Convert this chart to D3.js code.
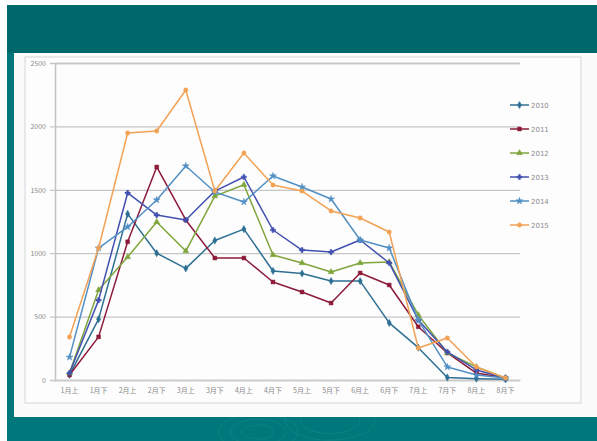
<!DOCTYPE html>
<html>
<head>
<meta charset="utf-8">
<script src="https://cdn.jsdelivr.net/npm/d3@7"></script>
<style>
  body { margin: 0; background: #ffffff; }
  svg { display: block; }
  .axis text { font-family: "Noto Sans CJK SC", "DejaVu Sans", sans-serif; font-size: 7px; fill: #8a8a8a; }
</style>
</head>
<body>
<script>
// data
const categories = ["1月上", "1月下", "2月上", "2月下", "3月上", "3月下", "4月上", "4月下",
                    "5月上", "5月下", "6月上", "6月下", "7月上", "7月下", "8月上", "8月下"];
const seriesNames = ["2010", "2011", "2012", "2013", "2014", "2015"];
const values2010 = [40, 480, 1310, 1000, 880, 1100, 1190, 860, 840, 780, 780, 450, 255, 20, 10, 5];
const values2011 = [40, 340, 1090, 1680, 1262, 962, 962, 773, 694, 607, 844, 749, 420, 213, 55, 16];
const values2012 = [55, 710, 970, 1246, 1017, 1450, 1540, 986, 923, 852, 923, 931, 513, 213, 103, 16];
const values2013 = [55, 630, 1475, 1301, 1262, 1490, 1601, 1183, 1025, 1009, 1104, 923, 473, 221, 79, 16];
const values2014 = [180, 1040, 1207, 1420, 1688, 1483, 1404, 1609, 1522, 1427, 1104, 1041, 473, 103, 39, 16];
const values2015 = [339, 1041, 1948, 1964, 2287, 1490, 1790, 1538, 1490, 1333, 1278, 1167, 252, 331, 103, 16];
const yTicks = [0, 500, 1000, 1500, 2000, 2500];

const allValues = [values2010, values2011, values2012, values2013, values2014, values2015];
const colors = ["#2d6f93", "#8c1b3a", "#7fa53c", "#4250b0", "#5290c4", "#f2a255"];
const symbols = [d3.symbolDiamond, d3.symbolSquare, d3.symbolTriangle, d3.symbolCross, d3.symbolStar, d3.symbolCircle];

const W = 597, H = 441;
const plot = {left: 55, right: 520, top: 63, bottom: 380};

const svg = d3.select("body").append("svg")
    .attr("width", W)
    .attr("height", H);

// slide background
svg.append("rect").attr("x", 0).attr("y", 0).attr("width", W).attr("height", H).attr("fill", "#ffffff");
svg.append("rect").attr("x", 7).attr("y", 5).attr("width", W - 7).attr("height", H - 5).attr("fill", "#00777a");
svg.append("rect").attr("x", 7).attr("y", 5).attr("width", W - 7).attr("height", 48).attr("fill", "#00676a");

// faint ripple decoration at bottom
[[258, 432, 40], [258, 432, 28], [258, 432, 16], [330, 420, 45], [330, 420, 30]].forEach(function (c) {
    svg.append("ellipse")
        .attr("cx", c[0]).attr("cy", c[1]).attr("rx", c[2]).attr("ry", c[2] * 0.45)
        .attr("fill", "none").attr("stroke", "#0f8183").attr("stroke-width", 1);
});

// white panel
svg.append("rect").attr("x", 14).attr("y", 53).attr("width", W - 14).attr("height", 364).attr("fill", "#fbfbfb");

// chart frame
svg.append("rect").attr("x", 25).attr("y", 57).attr("width", 556).attr("height", 346)
    .attr("fill", "#fdfdfd").attr("stroke", "#d6d6d6").attr("stroke-width", 1);

// scales
const x = d3.scaleBand().domain(categories).range([plot.left, plot.right]);
const cx = function (c) { return x(c) + x.bandwidth() / 2; };
const y = d3.scaleLinear().domain([0, 2500]).range([plot.bottom, plot.top]);

// y axis with gridlines
const yAxis = svg.append("g")
    .attr("class", "axis")
    .attr("transform", "translate(" + plot.left + ",0)")
    .call(d3.axisLeft(y).tickValues(yTicks).tickFormat(d3.format("d"))
        .tickSize(-(plot.right - plot.left)).tickPadding(9));
yAxis.select(".domain").attr("stroke", "#c4c4c4").attr("stroke-width", 1.5);
yAxis.selectAll(".tick line").attr("stroke", "#c6c6c6").attr("stroke-width", 1.3).attr("x1", -5);

// x axis
const xAxis = svg.append("g")
    .attr("class", "axis")
    .attr("transform", "translate(0," + plot.bottom + ")")
    .call(d3.axisBottom(x).tickSize(2).tickPadding(6));
xAxis.select(".domain").attr("stroke", "#cccccc").attr("stroke-dasharray", "2,1");
xAxis.selectAll(".tick line").attr("stroke", "#d4d4d4");

// lines
const line = d3.line()
    .x(function (d, i) { return cx(categories[i]); })
    .y(function (d) { return y(d); });

allValues.forEach(function (vals, s) {
    svg.append("path")
        .datum(vals)
        .attr("fill", "none")
        .attr("stroke", colors[s])
        .attr("stroke-width", 1.5)
        .attr("stroke-linejoin", "round")
        .attr("d", line);

    svg.selectAll(".m" + s)
        .data(vals)
        .enter()
        .append("path")
        .attr("class", "m" + s)
        .attr("transform", function (d, i) { return "translate(" + cx(categories[i]) + "," + y(d) + ")"; })
        .attr("d", d3.symbol().type(symbols[s]).size(15))
        .attr("fill", colors[s])
        .attr("stroke", colors[s])
        .attr("stroke-width", 0.5);
});

// legend
seriesNames.forEach(function (name, s) {
    const ly = 105 + s * 24;
    svg.append("line")
        .attr("x1", 510).attr("x2", 529).attr("y1", ly).attr("y2", ly)
        .attr("stroke", colors[s]).attr("stroke-width", 1.5);
    svg.append("path")
        .attr("transform", "translate(519.5," + ly + ")")
        .attr("d", d3.symbol().type(symbols[s]).size(15))
        .attr("fill", colors[s]).attr("stroke", colors[s]).attr("stroke-width", 0.5);
    svg.append("text")
        .attr("x", 531).attr("y", ly + 2.5)
        .attr("font-family", "DejaVu Sans, sans-serif")
        .attr("font-size", "7px")
        .attr("fill", "#8a8a8a")
        .text(name);
});
</script>
</body>
</html>
